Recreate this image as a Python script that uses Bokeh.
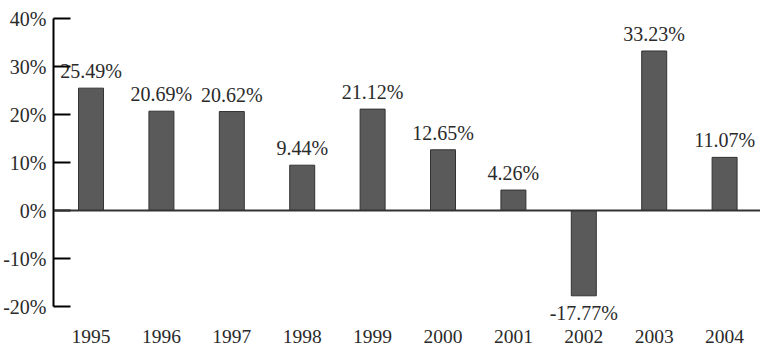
from bokeh.plotting import figure
from bokeh.models import Range1d, FixedTicker, Span, ColumnDataSource
from bokeh.embed import file_html
from bokeh.resources import INLINE
from bokeh.core.properties import value

years = ["1995", "1996", "1997", "1998", "1999", "2000", "2001", "2002", "2003", "2004"]
returns = [25.49, 20.69, 20.62, 9.44, 21.12, 12.65, 4.26, -17.77, 33.23, 11.07]
y_ticks = [-20, -10, 0, 10, 20, 30, 40]
y_tick_labels = ["-20%", "-10%", "0%", "10%", "20%", "30%", "40%"]

FONT = "Liberation Serif"
TXT = "#2a2a2a"

xs = list(range(len(years)))
labels = [f"{v:.2f}%" for v in returns]
pos = [v >= 0 for v in returns]

src_pos = ColumnDataSource(dict(x=[x for x, p in zip(xs, pos) if p],
                                y=[v for v, p in zip(returns, pos) if p],
                                t=[l for l, p in zip(labels, pos) if p]))
src_neg = ColumnDataSource(dict(x=[x for x, p in zip(xs, pos) if not p],
                                y=[v for v, p in zip(returns, pos) if not p],
                                t=[l for l, p in zip(labels, pos) if not p]))
src = ColumnDataSource(dict(x=xs, top=returns))

# frame: top at y=18 (40%), 4.8 px per 1%, bottom at y=324
p = figure(width=760, height=345, output_backend="svg", toolbar_location=None,
           x_range=Range1d(-0.533, 9.51), y_range=Range1d(-23.75, 40),
           min_border_left=53, min_border_right=0, min_border_top=18, min_border_bottom=21)
p.outline_line_color = None
p.xgrid.visible = False
p.ygrid.visible = False
p.background_fill_color = "white"
p.border_fill_color = "white"

p.vbar(x="x", top="top", bottom=0, width=0.355, source=src,
       fill_color="#5a5a5a", line_color="#333333", line_width=1)

p.add_layout(Span(location=0, dimension="width", line_color="#333333", line_width=2))

p.text(x="x", y="y", text="t", source=src_pos, text_align="center", text_baseline="bottom",
       y_offset=-6, text_font=value(FONT), text_font_size="20px", text_color=TXT)
p.text(x="x", y="y", text="t", source=src_neg, text_align="center", text_baseline="top",
       y_offset=6, text_font=value(FONT), text_font_size="20px", text_color=TXT)

# y axis
ya = p.yaxis[0]
ya.bounds = (-20, 40)
ya.ticker = FixedTicker(ticks=y_ticks)
ya.major_label_overrides = {t: l for t, l in zip(y_ticks, y_tick_labels)}
ya.axis_line_color = "black"
ya.axis_line_width = 2
ya.major_tick_line_color = "black"
ya.major_tick_line_width = 2
ya.major_tick_in = 17
ya.major_tick_out = 0
ya.minor_tick_line_color = None
ya.major_label_standoff = 7
ya.major_label_text_font = FONT
ya.major_label_text_font_size = "20px"
ya.major_label_text_color = TXT

# x axis
xa = p.xaxis[0]
xa.ticker = FixedTicker(ticks=xs)
xa.major_label_overrides = {x: y for x, y in zip(xs, years)}
xa.axis_line_color = None
xa.major_tick_line_color = None
xa.minor_tick_line_color = None
xa.major_tick_in = 0
xa.major_tick_out = 0
xa.major_label_standoff = 5
xa.major_label_text_font = FONT
xa.major_label_text_font_size = "19.5px"
xa.major_label_text_color = TXT

open("out.html", "w").write(file_html(p, INLINE))
